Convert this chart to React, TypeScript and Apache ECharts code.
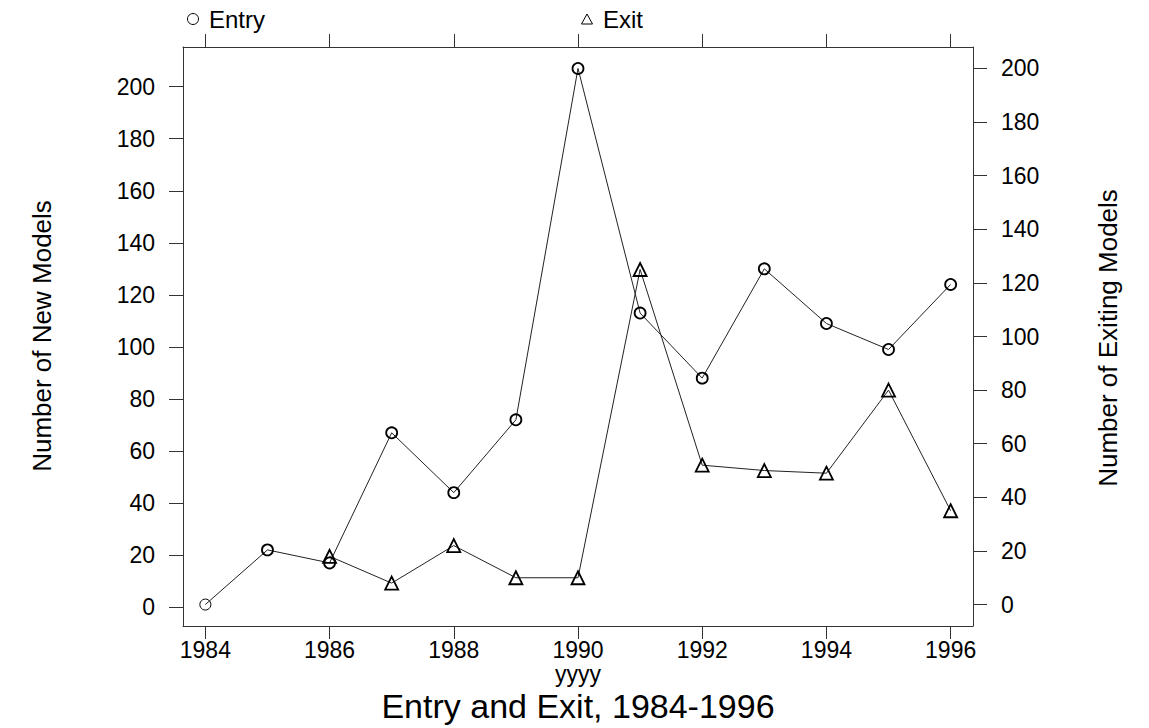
import React, { useEffect, useRef } from "react";
import * as echarts from "echarts";

const years = [1984, 1985, 1986, 1987, 1988, 1989, 1990, 1991, 1992, 1993, 1994, 1995, 1996];
const entryValues = [1, 22, 17, 67, 44, 72, 207, 113, 88, 130, 109, 99, 124];
const exitYears = [1986, 1987, 1988, 1989, 1990, 1991, 1992, 1993, 1994, 1995, 1996];
const exitValues = [18, 8, 22, 10, 10, 125, 52, 50, 49, 80, 35];
const xTicks = [1984, 1986, 1988, 1990, 1992, 1994, 1996];
const yTicks = [0, 20, 40, 60, 80, 100, 120, 140, 160, 180, 200];

const FONT = "Liberation Sans, Arial, Helvetica, sans-serif";
const AXIS_COLOR = "#333";

export default function App() {
  const ref = useRef<HTMLDivElement>(null);
  useEffect(() => {
    if (!ref.current) return;
    const chart = echarts.init(ref.current, undefined, { renderer: "svg" });
    const axisCommon = {
      type: "value",
      splitLine: { show: false },
      axisLine: { show: true, onZero: false, lineStyle: { color: AXIS_COLOR, width: 1 } },
    };
    const xAxisBase = (position: string, showLabels: boolean) => ({
      ...axisCommon,
      position,
      min: 1983.64,
      max: 1996.36,
      axisTick: { show: true, inside: false, length: 13, customValues: xTicks, lineStyle: { color: AXIS_COLOR } },
      axisLabel: {
        show: showLabels,
        customValues: xTicks,
        formatter: (v: number) => String(v),
        fontSize: 23,
        margin: 12,
        color: "#000",
        fontFamily: FONT,
      },
    });
    const yAxisBase = (position: string, min: number, max: number) => ({
      ...axisCommon,
      position,
      min,
      max,
      axisTick: { show: true, inside: false, length: 14, customValues: yTicks, lineStyle: { color: AXIS_COLOR } },
      axisLabel: {
        customValues: yTicks,
        formatter: (v: number) => String(v),
        fontSize: 23,
        margin: 28,
        color: "#000",
        fontFamily: FONT,
      },
    });
    const entryData = years.map((y, i) => ({
      value: [y, entryValues[i]],
      itemStyle: { borderWidth: i === 0 ? 1 : 1.8 },
    }));
    const exitData = exitYears.map((y, i) => [y, exitValues[i]]);

    chart.setOption({
      animation: false,
      backgroundColor: "#fff",
      grid: { left: 183, right: 176, top: 47, bottom: 102, containLabel: false },
      xAxis: [xAxisBase("bottom", true), xAxisBase("top", false)],
      yAxis: [yAxisBase("left", -7.24, 215.24), yAxisBase("right", -8, 208)],
      series: [
        {
          name: "Entry",
          type: "line",
          xAxisIndex: 0,
          yAxisIndex: 0,
          data: entryData,
          symbol: "circle",
          symbolSize: 11,
          lineStyle: { color: "#222", width: 1 },
          itemStyle: { color: "rgba(0,0,0,0)", borderColor: "#000", borderWidth: 1.8 },
          z: 3,
        },
        {
          name: "Exit",
          type: "line",
          xAxisIndex: 0,
          yAxisIndex: 1,
          data: exitData,
          symbol: "triangle",
          symbolSize: 13,
          lineStyle: { color: "#222", width: 1 },
          itemStyle: { color: "rgba(0,0,0,0)", borderColor: "#000", borderWidth: 1.8 },
          z: 3,
        },
      ],
      graphic: [
        { type: "circle", shape: { cx: 193, cy: 19, r: 5.5 }, style: { fill: "none", stroke: "#000", lineWidth: 1 } },
        { type: "text", x: 209, y: 19, style: { text: "Entry", fontSize: 24, fontFamily: FONT, fill: "#000", verticalAlign: "middle", align: "left" } },
        { type: "polygon", shape: { points: [[587, 14], [581.5, 24], [592.5, 24]] }, style: { fill: "none", stroke: "#000", lineWidth: 1 } },
        { type: "text", x: 603, y: 19, style: { text: "Exit", fontSize: 24, fontFamily: FONT, fill: "#000", verticalAlign: "middle", align: "left" } },
        { type: "text", x: 42, y: 336, rotation: Math.PI / 2, style: { text: "Number of New Models", fontSize: 26, fontFamily: FONT, fill: "#000", align: "center", verticalAlign: "middle" } },
        { type: "text", x: 1108, y: 338, rotation: Math.PI / 2, style: { text: "Number of Exiting Models", fontSize: 26, fontFamily: FONT, fill: "#000", align: "center", verticalAlign: "middle" } },
        { type: "text", x: 578, y: 674, style: { text: "yyyy", fontSize: 23, fontFamily: FONT, fill: "#000", align: "center", verticalAlign: "middle" } },
        { type: "text", x: 578, y: 706, style: { text: "Entry and Exit, 1984-1996", fontSize: 34, fontFamily: FONT, fill: "#000", align: "center", verticalAlign: "middle" } },
      ],
    });
    return () => chart.dispose();
  }, []);
  return <div ref={ref} style={{ position: "fixed", left: 0, top: 0, width: 1149, height: 728 }} />;
}
